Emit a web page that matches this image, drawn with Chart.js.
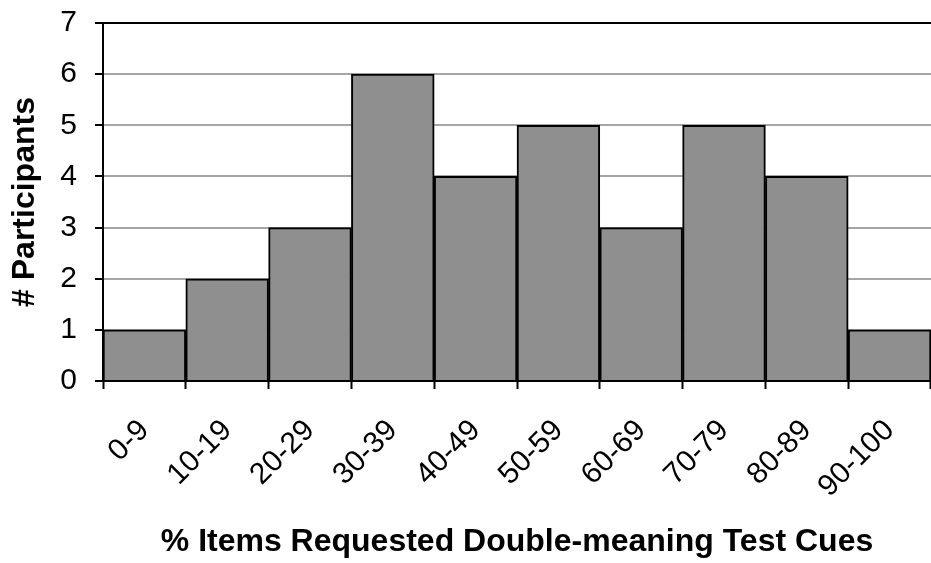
<!DOCTYPE html>
<html>
<head>
<meta charset="utf-8">
<script src="https://cdn.jsdelivr.net/npm/chart.js@4"></script>
<style>
  body { margin: 0; background: #fff; }
</style>
</head>
<body>
<canvas id="myChart" width="931" height="563"></canvas>
<script>
  'use strict'

  // histogram bins and counts
  const bins = ['0-9', '10-19', '20-29', '30-39', '40-49', '50-59', '60-69', '70-79', '80-89', '90-100']
  const participants = [1, 2, 3, 6, 4, 5, 3, 5, 4, 1]
  const yTicks = [0, 1, 2, 3, 4, 5, 6, 7]

  const xTitle = '% Items Requested Double-meaning Test Cues'
  const yTitle = '# Participants'

  const font = '"Liberation Sans", Arial, Helvetica, sans-serif'

  const ctx = document.getElementById('myChart')

  // eslint-disable-next-line no-unused-vars
  const myChart = new Chart(ctx, {
    type: 'bar',
    data: {
      labels: bins,
      datasets: [{
        data: participants,
        backgroundColor: '#8f8f8f',
        borderColor: '#000',
        borderWidth: 2,
        borderSkipped: 'start',
        barPercentage: 1,
        categoryPercentage: 1
      }]
    },
    options: {
      responsive: false,
      animation: false,
      layout: {
        padding: { top: 23, right: 0, left: 0, bottom: 0 }
      },
      plugins: {
        legend: { display: false },
        tooltip: { enabled: false }
      },
      scales: {
        x: {
          grid: {
            offset: true,
            drawOnChartArea: false,
            drawTicks: true,
            tickLength: 8,
            tickWidth: 2,
            tickColor: '#000'
          },
          border: { color: '#000', width: 2 },
          ticks: {
            color: '#000',
            minRotation: 45,
            maxRotation: 45,
            padding: 24,
            font: { family: font, size: 30 }
          },
          title: {
            display: true,
            text: xTitle,
            color: '#000',
            padding: { top: 0, bottom: 2 },
            font: { family: font, size: 32, weight: 'bold' }
          },
          afterFit: (scale) => {
            scale.height = 182
            scale.paddingLeft = 0
            scale.paddingRight = 0
          }
        },
        y: {
          min: 0,
          max: 7,
          afterBuildTicks: (scale) => {
            scale.ticks = yTicks.map(v => ({ value: v }))
          },
          grid: {
            color: (c) => c.tick && c.tick.value === 7 ? '#000' : (c.tick && c.tick.value === 0 ? 'rgba(0,0,0,0)' : '#a6a6a6'),
            lineWidth: 2,
            tickLength: 8,
            tickWidth: 2,
            tickColor: '#000'
          },
          border: { color: '#000', width: 2 },
          ticks: {
            color: '#000',
            padding: 18,
            font: { family: font, size: 30 }
          },
          title: {
            display: true,
            text: yTitle,
            color: '#000',
            padding: { top: 6, bottom: 0 },
            font: { family: font, size: 32, weight: 'bold' }
          },
          afterFit: (scale) => {
            scale.width = 103
            scale.paddingTop = 0
            scale.paddingBottom = 0
          }
        }
      }
    }
  })
</script>
</body>
</html>
